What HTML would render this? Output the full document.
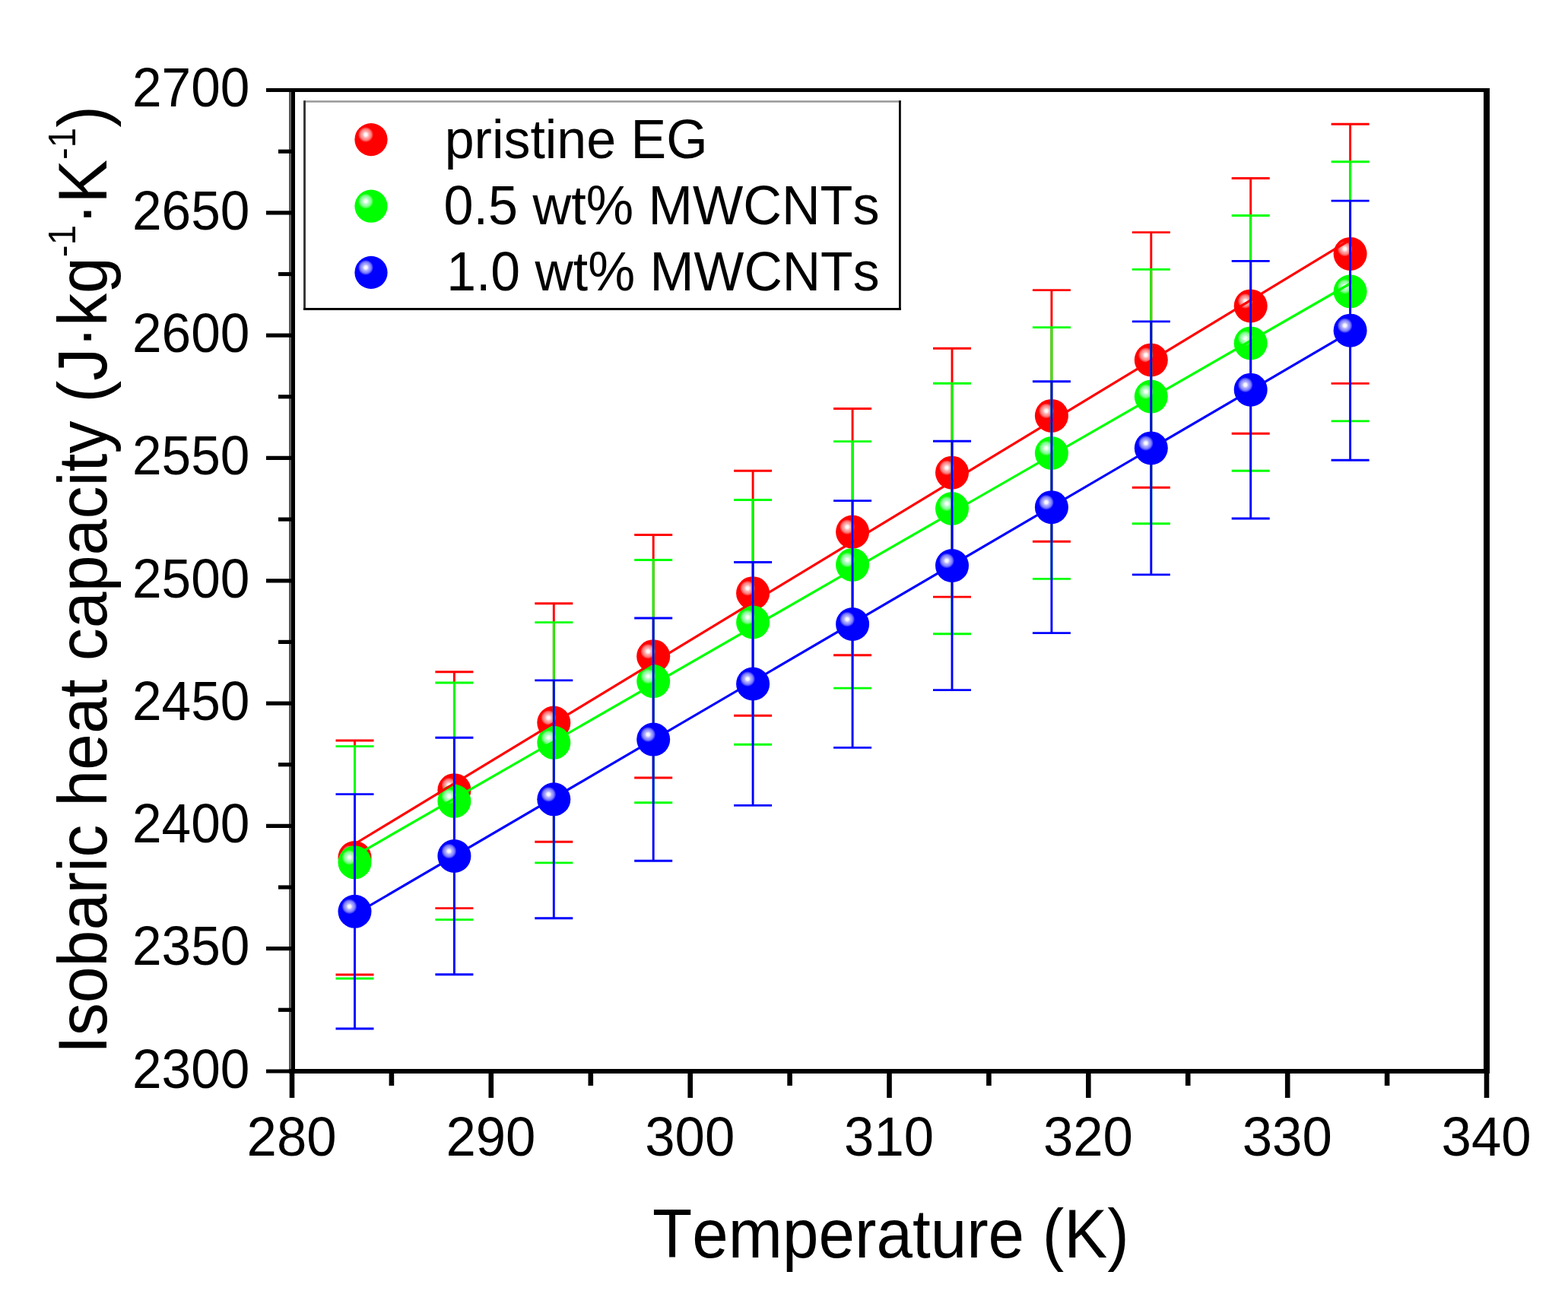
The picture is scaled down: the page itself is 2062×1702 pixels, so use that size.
<!DOCTYPE html><html><head><meta charset="utf-8"><style>html,body{margin:0;padding:0;background:#fff;overflow:hidden}svg{display:block}text{font-kerning:none}</style></head><body><svg width="2062" height="1702" viewBox="0 0 2062 1702">
<defs>
<radialGradient id="sr" gradientUnits="userSpaceOnUse" cx="-7" cy="-6.5" r="10" fx="-7" fy="-6.5"><stop offset="0" stop-color="#ffffff"/><stop offset="0.22" stop-color="#fff0f0"/><stop offset="0.4" stop-color="#ffb4b4"/><stop offset="0.7" stop-color="#ff8080"/><stop offset="0.88" stop-color="#ff4040"/><stop offset="1" stop-color="#ff0000"/></radialGradient>
<radialGradient id="sg" gradientUnits="userSpaceOnUse" cx="-7" cy="-6.5" r="10" fx="-7" fy="-6.5"><stop offset="0" stop-color="#ffffff"/><stop offset="0.22" stop-color="#f0fff0"/><stop offset="0.4" stop-color="#b4ffc4"/><stop offset="0.7" stop-color="#80ff90"/><stop offset="0.88" stop-color="#40ff40"/><stop offset="1" stop-color="#00ff00"/></radialGradient>
<radialGradient id="sb" gradientUnits="userSpaceOnUse" cx="-7" cy="-6.5" r="10" fx="-7" fy="-6.5"><stop offset="0" stop-color="#ffffff"/><stop offset="0.22" stop-color="#f0f0ff"/><stop offset="0.4" stop-color="#b4b4ff"/><stop offset="0.7" stop-color="#8080ff"/><stop offset="0.88" stop-color="#4040ff"/><stop offset="1" stop-color="#0000ff"/></radialGradient>
</defs>
<rect width="2062" height="1702" fill="#ffffff"/>
<path d="M466.5,974.0V1282.0M441.5,974.0H491.5M441.5,1282.0H491.5" stroke="#ff0000" stroke-width="2.9" fill="none"/>
<path d="M597.4,883.8V1194.6M572.4,883.8H622.4M572.4,1194.6H622.4" stroke="#ff0000" stroke-width="2.9" fill="none"/>
<path d="M728.3,793.8V1107.3M703.3,793.8H753.3M703.3,1107.3H753.3" stroke="#ff0000" stroke-width="2.9" fill="none"/>
<path d="M859.2,703.5V1023.0M834.2,703.5H884.2M834.2,1023.0H884.2" stroke="#ff0000" stroke-width="2.9" fill="none"/>
<path d="M990.1,619.3V941.2M965.1,619.3H1015.1M965.1,941.2H1015.1" stroke="#ff0000" stroke-width="2.9" fill="none"/>
<path d="M1121.1,537.5V861.7M1096.1,537.5H1146.1M1096.1,861.7H1146.1" stroke="#ff0000" stroke-width="2.9" fill="none"/>
<path d="M1252.0,458.3V785.1M1227.0,458.3H1277.0M1227.0,785.1H1277.0" stroke="#ff0000" stroke-width="2.9" fill="none"/>
<path d="M1382.9,381.6V712.2M1357.9,381.6H1407.9M1357.9,712.2H1407.9" stroke="#ff0000" stroke-width="2.9" fill="none"/>
<path d="M1513.8,305.6V641.2M1488.8,305.6H1538.8M1488.8,641.2H1538.8" stroke="#ff0000" stroke-width="2.9" fill="none"/>
<path d="M1644.7,234.5V570.2M1619.7,234.5H1669.7M1619.7,570.2H1669.7" stroke="#ff0000" stroke-width="2.9" fill="none"/>
<path d="M1775.6,163.3V504.4M1750.6,163.3H1800.6M1750.6,504.4H1800.6" stroke="#ff0000" stroke-width="2.9" fill="none"/>
<circle transform="translate(466.5,1128.0)" r="22" fill="url(#sr)"/>
<circle transform="translate(597.4,1039.2)" r="22" fill="url(#sr)"/>
<circle transform="translate(728.3,950.5)" r="22" fill="url(#sr)"/>
<circle transform="translate(859.2,863.2)" r="22" fill="url(#sr)"/>
<circle transform="translate(990.1,780.2)" r="22" fill="url(#sr)"/>
<circle transform="translate(1121.1,699.6)" r="22" fill="url(#sr)"/>
<circle transform="translate(1252.0,621.7)" r="22" fill="url(#sr)"/>
<circle transform="translate(1382.9,546.9)" r="22" fill="url(#sr)"/>
<circle transform="translate(1513.8,473.4)" r="22" fill="url(#sr)"/>
<circle transform="translate(1644.7,402.4)" r="22" fill="url(#sr)"/>
<circle transform="translate(1775.6,333.9)" r="22" fill="url(#sr)"/>
<path d="M466.5,981.6V1287.0M441.5,981.6H491.5M441.5,1287.0H491.5" stroke="#00ff00" stroke-width="2.9" fill="none"/>
<path d="M597.4,898.0V1209.6M572.4,898.0H622.4M572.4,1209.6H622.4" stroke="#00ff00" stroke-width="2.9" fill="none"/>
<path d="M728.3,818.6V1134.9M703.3,818.6H753.3M703.3,1134.9H753.3" stroke="#00ff00" stroke-width="2.9" fill="none"/>
<path d="M859.2,736.5V1055.7M834.2,736.5H884.2M834.2,1055.7H884.2" stroke="#00ff00" stroke-width="2.9" fill="none"/>
<path d="M990.1,657.5V979.3M965.1,657.5H1015.1M965.1,979.3H1015.1" stroke="#00ff00" stroke-width="2.9" fill="none"/>
<path d="M1121.1,580.6V905.1M1096.1,580.6H1146.1M1096.1,905.1H1146.1" stroke="#00ff00" stroke-width="2.9" fill="none"/>
<path d="M1252.0,504.2V833.8M1227.0,504.2H1277.0M1227.0,833.8H1277.0" stroke="#00ff00" stroke-width="2.9" fill="none"/>
<path d="M1382.9,430.6V761.4M1357.9,430.6H1407.9M1357.9,761.4H1407.9" stroke="#00ff00" stroke-width="2.9" fill="none"/>
<path d="M1513.8,354.4V688.8M1488.8,354.4H1538.8M1488.8,688.8H1538.8" stroke="#00ff00" stroke-width="2.9" fill="none"/>
<path d="M1644.7,283.5V619.2M1619.7,283.5H1669.7M1619.7,619.2H1669.7" stroke="#00ff00" stroke-width="2.9" fill="none"/>
<path d="M1775.6,212.7V553.9M1750.6,212.7H1800.6M1750.6,553.9H1800.6" stroke="#00ff00" stroke-width="2.9" fill="none"/>
<circle transform="translate(466.5,1134.3)" r="22" fill="url(#sg)"/>
<circle transform="translate(597.4,1053.8)" r="22" fill="url(#sg)"/>
<circle transform="translate(728.3,976.8)" r="22" fill="url(#sg)"/>
<circle transform="translate(859.2,896.1)" r="22" fill="url(#sg)"/>
<circle transform="translate(990.1,818.4)" r="22" fill="url(#sg)"/>
<circle transform="translate(1121.1,742.9)" r="22" fill="url(#sg)"/>
<circle transform="translate(1252.0,669.0)" r="22" fill="url(#sg)"/>
<circle transform="translate(1382.9,596.0)" r="22" fill="url(#sg)"/>
<circle transform="translate(1513.8,521.6)" r="22" fill="url(#sg)"/>
<circle transform="translate(1644.7,451.4)" r="22" fill="url(#sg)"/>
<circle transform="translate(1775.6,383.3)" r="22" fill="url(#sg)"/>
<line x1="466.5" y1="1110.0" x2="1775.6" y2="315.3" stroke="#ff0000" stroke-width="3.2"/>
<line x1="466.5" y1="1125.8" x2="1775.6" y2="373.0" stroke="#00ff00" stroke-width="3.2"/>
<line x1="466.5" y1="1202.7" x2="1775.6" y2="436.7" stroke="#0000ff" stroke-width="3.2"/>
<path d="M466.5,1044.6V1353.0M441.5,1044.6H491.5M441.5,1353.0H491.5" stroke="#0000ff" stroke-width="2.9" fill="none"/>
<path d="M597.4,970.3V1281.7M572.4,970.3H622.4M572.4,1281.7H622.4" stroke="#0000ff" stroke-width="2.9" fill="none"/>
<path d="M728.3,894.9V1207.8M703.3,894.9H753.3M703.3,1207.8H753.3" stroke="#0000ff" stroke-width="2.9" fill="none"/>
<path d="M859.2,813.0V1132.2M834.2,813.0H884.2M834.2,1132.2H884.2" stroke="#0000ff" stroke-width="2.9" fill="none"/>
<path d="M990.1,739.5V1059.4M965.1,739.5H1015.1M965.1,1059.4H1015.1" stroke="#0000ff" stroke-width="2.9" fill="none"/>
<path d="M1121.1,658.6V983.4M1096.1,658.6H1146.1M1096.1,983.4H1146.1" stroke="#0000ff" stroke-width="2.9" fill="none"/>
<path d="M1252.0,580.3V907.6M1227.0,580.3H1277.0M1227.0,907.6H1277.0" stroke="#0000ff" stroke-width="2.9" fill="none"/>
<path d="M1382.9,501.8V832.6M1357.9,501.8H1407.9M1357.9,832.6H1407.9" stroke="#0000ff" stroke-width="2.9" fill="none"/>
<path d="M1513.8,422.9V755.9M1488.8,422.9H1538.8M1488.8,755.9H1538.8" stroke="#0000ff" stroke-width="2.9" fill="none"/>
<path d="M1644.7,343.4V682.0M1619.7,343.4H1669.7M1619.7,682.0H1669.7" stroke="#0000ff" stroke-width="2.9" fill="none"/>
<path d="M1775.6,264.1V605.2M1750.6,264.1H1800.6M1750.6,605.2H1800.6" stroke="#0000ff" stroke-width="2.9" fill="none"/>
<circle transform="translate(466.5,1198.8)" r="22" fill="url(#sb)"/>
<circle transform="translate(597.4,1126.0)" r="22" fill="url(#sb)"/>
<circle transform="translate(728.3,1051.3)" r="22" fill="url(#sb)"/>
<circle transform="translate(859.2,972.6)" r="22" fill="url(#sb)"/>
<circle transform="translate(990.1,899.5)" r="22" fill="url(#sb)"/>
<circle transform="translate(1121.1,821.0)" r="22" fill="url(#sb)"/>
<circle transform="translate(1252.0,744.0)" r="22" fill="url(#sb)"/>
<circle transform="translate(1382.9,667.2)" r="22" fill="url(#sb)"/>
<circle transform="translate(1513.8,589.4)" r="22" fill="url(#sb)"/>
<circle transform="translate(1644.7,512.7)" r="22" fill="url(#sb)"/>
<circle transform="translate(1775.6,434.7)" r="22" fill="url(#sb)"/>
<g stroke="#000" fill="none">
<line x1="385.25" y1="116.0" x2="385.25" y2="1412.0" stroke-width="5.5"/>
<line x1="381.25" y1="121.0" x2="381.25" y2="1412.0" stroke="#555" stroke-width="2.5"/>
<line x1="1955.0" y1="116.0" x2="1955.0" y2="1412.0" stroke-width="8"/>
<line x1="380.0" y1="118.5" x2="1959.0" y2="118.5" stroke-width="5"/>
<line x1="380.0" y1="1409.0" x2="1959.0" y2="1409.0" stroke-width="6"/>
<line x1="350" y1="1409.0" x2="384.0" y2="1409.0" stroke-width="5.2"/>
<line x1="366" y1="1328.3" x2="384.0" y2="1328.3" stroke-width="5.2"/>
<line x1="350" y1="1247.7" x2="384.0" y2="1247.7" stroke-width="5.2"/>
<line x1="366" y1="1167.0" x2="384.0" y2="1167.0" stroke-width="5.2"/>
<line x1="350" y1="1086.4" x2="384.0" y2="1086.4" stroke-width="5.2"/>
<line x1="366" y1="1005.7" x2="384.0" y2="1005.7" stroke-width="5.2"/>
<line x1="350" y1="925.1" x2="384.0" y2="925.1" stroke-width="5.2"/>
<line x1="366" y1="844.4" x2="384.0" y2="844.4" stroke-width="5.2"/>
<line x1="350" y1="763.8" x2="384.0" y2="763.8" stroke-width="5.2"/>
<line x1="366" y1="683.1" x2="384.0" y2="683.1" stroke-width="5.2"/>
<line x1="350" y1="602.4" x2="384.0" y2="602.4" stroke-width="5.2"/>
<line x1="366" y1="521.8" x2="384.0" y2="521.8" stroke-width="5.2"/>
<line x1="350" y1="441.1" x2="384.0" y2="441.1" stroke-width="5.2"/>
<line x1="366" y1="360.5" x2="384.0" y2="360.5" stroke-width="5.2"/>
<line x1="350" y1="279.8" x2="384.0" y2="279.8" stroke-width="5.2"/>
<line x1="366" y1="199.2" x2="384.0" y2="199.2" stroke-width="5.2"/>
<line x1="350" y1="118.5" x2="384.0" y2="118.5" stroke-width="5.2"/>
<line x1="384.0" y1="1409.0" x2="384.0" y2="1444" stroke-width="6.6"/>
<line x1="514.9" y1="1409.0" x2="514.9" y2="1428" stroke-width="6.6"/>
<line x1="645.8" y1="1409.0" x2="645.8" y2="1444" stroke-width="6.6"/>
<line x1="776.8" y1="1409.0" x2="776.8" y2="1428" stroke-width="6.6"/>
<line x1="907.7" y1="1409.0" x2="907.7" y2="1444" stroke-width="6.6"/>
<line x1="1038.6" y1="1409.0" x2="1038.6" y2="1428" stroke-width="6.6"/>
<line x1="1169.5" y1="1409.0" x2="1169.5" y2="1444" stroke-width="6.6"/>
<line x1="1300.4" y1="1409.0" x2="1300.4" y2="1428" stroke-width="6.6"/>
<line x1="1431.3" y1="1409.0" x2="1431.3" y2="1444" stroke-width="6.6"/>
<line x1="1562.2" y1="1409.0" x2="1562.2" y2="1428" stroke-width="6.6"/>
<line x1="1693.2" y1="1409.0" x2="1693.2" y2="1444" stroke-width="6.6"/>
<line x1="1824.1" y1="1409.0" x2="1824.1" y2="1428" stroke-width="6.6"/>
<line x1="1955.0" y1="1409.0" x2="1955.0" y2="1444" stroke-width="6.6"/>
</g>
<g font-family="Liberation Sans, Arial, sans-serif" font-size="72" fill="#000">
<text transform="translate(173.94,1430.7) scale(0.9641,1)">2300</text>
<text transform="translate(173.94,1269.4) scale(0.9641,1)">2350</text>
<text transform="translate(173.94,1108.1) scale(0.9641,1)">2400</text>
<text transform="translate(173.94,946.8) scale(0.9641,1)">2450</text>
<text transform="translate(173.94,785.5) scale(0.9641,1)">2500</text>
<text transform="translate(173.94,624.1) scale(0.9641,1)">2550</text>
<text transform="translate(173.94,462.8) scale(0.9641,1)">2600</text>
<text transform="translate(173.94,301.5) scale(0.9641,1)">2650</text>
<text transform="translate(173.94,140.2) scale(0.9641,1)">2700</text>
<text transform="translate(324.57,1520.4) scale(0.9823,1)">280</text>
<text transform="translate(586.40,1520.4) scale(0.9823,1)">290</text>
<text transform="translate(848.24,1520.4) scale(0.9823,1)">300</text>
<text transform="translate(1110.07,1520.4) scale(0.9823,1)">310</text>
<text transform="translate(1371.90,1520.4) scale(0.9823,1)">320</text>
<text transform="translate(1633.74,1520.4) scale(0.9823,1)">330</text>
<text transform="translate(1895.57,1520.4) scale(0.9823,1)">340</text>
</g>
<text font-family="Liberation Sans, Arial, sans-serif" font-size="91" transform="translate(858.12,1654.4) scale(0.9388,1)">Temperature (K)</text>
<text font-family="Liberation Sans, Arial, sans-serif" font-size="91" transform="translate(139.8,1386.27) rotate(-90) scale(0.9465,1)">Isobaric heat capacity (J·kg<tspan font-size="50" dy="-41">-1</tspan><tspan dy="41">·K</tspan><tspan font-size="50" dy="-41">-1</tspan><tspan dy="41">)</tspan></text>
<rect x="400.5" y="133.5" width="783" height="273" fill="#fff"/>
<line x1="400.5" y1="133.5" x2="1184.8" y2="133.5" stroke="#999" stroke-width="2.6"/>
<line x1="400.5" y1="132.2" x2="400.5" y2="407.9" stroke="#333" stroke-width="2.9"/>
<line x1="1183.4" y1="132.2" x2="1183.4" y2="407.9" stroke="#000" stroke-width="2.8"/>
<line x1="399" y1="406.4" x2="1184.8" y2="406.4" stroke="#000" stroke-width="3"/>
<circle transform="translate(488.0,183.6)" r="21.6" fill="url(#sr)"/>
<circle transform="translate(488.0,271.2)" r="21.6" fill="url(#sg)"/>
<circle transform="translate(488.0,358.4)" r="21.6" fill="url(#sb)"/>
<g font-family="Liberation Sans, Arial, sans-serif" font-size="72" fill="#000">
<text transform="translate(584.74,208.3) scale(0.9711,1)">pristine EG</text>
<text transform="translate(583.48,295.2) scale(0.9747,1)">0.5 wt% MWCNTs</text>
<text transform="translate(587.16,382) scale(0.9684,1)">1.0 wt% MWCNTs</text>
</g>
</svg></body></html>
